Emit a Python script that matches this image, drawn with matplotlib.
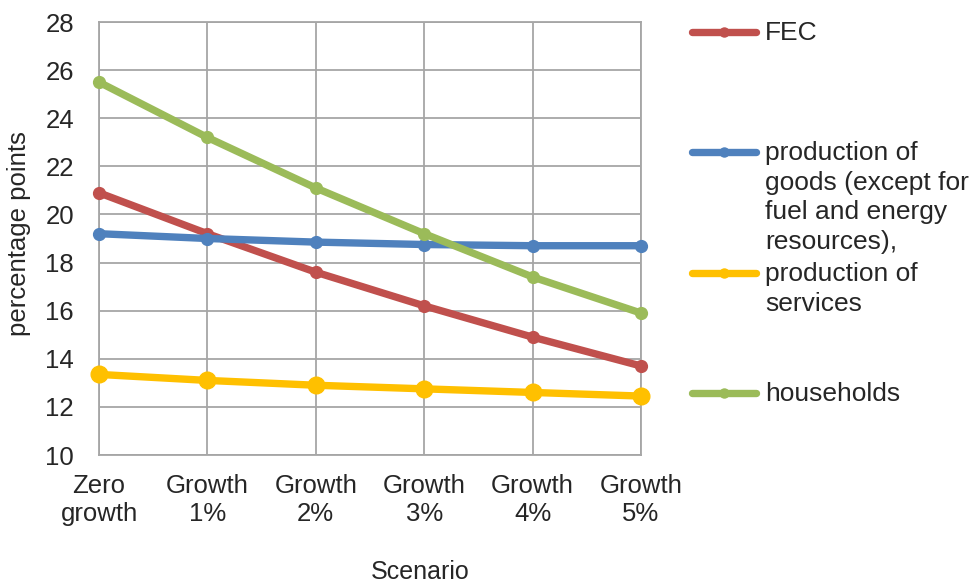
import matplotlib
matplotlib.use('Agg')
import matplotlib.pyplot as plt
from matplotlib.lines import Line2D

plt.rcParams['font.family'] = ['Liberation Sans', 'DejaVu Sans']

# data
scenarios = ['Zero\ngrowth', 'Growth\n1%', 'Growth\n2%', 'Growth\n3%', 'Growth\n4%', 'Growth\n5%']
fec = [20.9, 19.2, 17.6, 16.2, 14.9, 13.7]
goods = [19.2, 19.0, 18.85, 18.75, 18.7, 18.7]
services = [13.35, 13.1, 12.9, 12.75, 12.6, 12.45]
households = [25.5, 23.2, 21.1, 19.2, 17.4, 15.9]

series_names = ['FEC',
                'production of\ngoods (except for\nfuel and energy\nresources),',
                'production of\nservices',
                'households']
colors = ['#C0504D', '#4F81BD', '#FFC000', '#9BBB59']
marker_sizes = [8.5, 8.5, 12, 8.5]

W, H = 972, 588
fig = plt.figure(figsize=(W / 100, H / 100), dpi=100)
ax = fig.add_axes([99 / W, 1 - 455 / H, (641 - 99) / W, (455 - 22) / H])

x = list(range(len(scenarios)))
for vals, c, ms in zip([fec, goods, services, households], colors, marker_sizes):
    ax.plot(x, vals, color=c, lw=5.3, marker='o', ms=ms, solid_capstyle='round',
            clip_on=False, zorder=3)

grid_c = '#a6a6a6'
ax.set_xlim(0, 5)
ax.set_ylim(10, 28)
ax.set_yticks(range(10, 29, 2))
ax.set_xticks(x)
ax.set_xticklabels(scenarios)
ax.grid(True, color=grid_c, lw=1.3)
ax.set_axisbelow(True)
for s in ax.spines.values():
    s.set_color(grid_c)
    s.set_linewidth(1.3)
ax.tick_params(length=0, labelsize=18.5, colors='#262626')
ax.tick_params(axis='y', pad=18)
ax.tick_params(axis='x', pad=14)

ax.set_xlabel('Scenario', fontsize=18, color='#262626')
ax.xaxis.set_label_coords((420 - 99) / (641 - 99), (455 - 572) / (455 - 22), transform=ax.transAxes)
ax.xaxis.label.set_verticalalignment('center')
ax.set_ylabel('percentage points', fontsize=18.5, color='#262626')
ax.yaxis.set_label_coords((19 - 99) / (641 - 99), (455 - 234) / (455 - 22), transform=ax.transAxes)
ax.yaxis.label.set_verticalalignment('center')

# legend drawn by hand to mimic the spreadsheet layout
legend_y = [32, 152, 273, 393]
for name, c, ly in zip(series_names, colors, legend_y):
    yy = 1 - ly / H
    fig.add_artist(Line2D([692 / W, 724 / W, 756 / W], [yy, yy, yy], color=c, lw=5.3,
                          marker='o', ms=6.5, markevery=[1], solid_capstyle='round',
                          transform=fig.transFigure))
    fig.text(765 / W, 1 - (ly - 11) / H, name, fontsize=19, color='#262626', va='top',
             ha='left', linespacing=1.29)

fig.savefig('out.png', dpi=100)
